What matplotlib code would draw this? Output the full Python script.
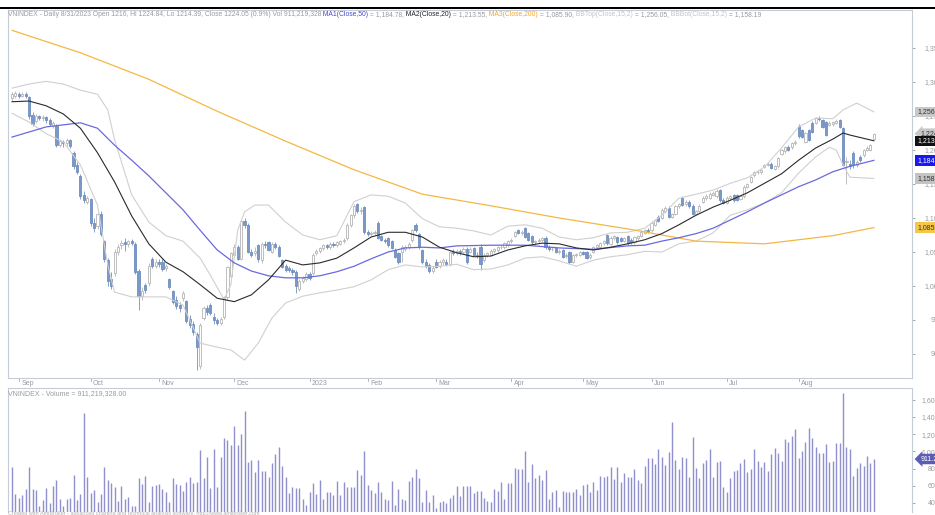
import numpy as np
import matplotlib.pyplot as plt
from matplotlib.patches import Rectangle

plt.rcParams['font.family'] = ['Liberation Sans', 'DejaVu Sans']

# daily bars, VNINDEX late Aug 2022 .. 31 Aug 2023
opens = [1276, 1280, 1283, 1280, 1282, 1278, 1252, 1242, 1250, 1247,
         1248, 1244, 1236, 1236, 1208, 1212, 1210, 1214, 1195, 1178,
         1162, 1134, 1124, 1128, 1092, 1088, 1106, 1066, 1038, 1010,
         1019, 1050, 1060, 1064, 1062, 1066, 1062, 1022, 986, 1002,
         1005, 1040, 1030, 1036, 1036, 1026, 1010, 992, 980, 972,
         982, 978, 952, 944, 930, 883, 953, 968, 972, 955,
         950, 946, 955, 984, 1015, 1045, 1058, 1040, 1095, 1090,
         1050, 1048, 1060, 1038, 1062, 1064, 1050, 1062, 1058, 1038,
         1030, 1027, 1024, 1021, 996, 1008, 1010, 1018, 1019, 1048,
         1052, 1056, 1060, 1058, 1062, 1060, 1062, 1066, 1070, 1090,
         1104, 1120, 1110, 1116, 1080, 1076, 1078, 1092, 1073, 1068,
         1070, 1066, 1053, 1048, 1050, 1055, 1058, 1068, 1090, 1076,
         1053, 1036, 1031, 1022, 1036, 1030, 1035, 1036, 1032, 1050,
         1048, 1052, 1050, 1054, 1050, 1056, 1046, 1058, 1038, 1046,
         1046, 1052, 1053, 1057, 1058, 1060, 1066, 1074, 1082, 1078,
         1085, 1078, 1074, 1064, 1066, 1068, 1071, 1058, 1054, 1056,
         1050, 1053, 1044, 1050, 1036, 1045, 1046, 1050, 1050, 1042,
         1050, 1057, 1058, 1063, 1075, 1062, 1071, 1072, 1070, 1066,
         1073, 1068, 1064, 1070, 1074, 1078, 1082, 1082, 1090, 1102,
         1100, 1110, 1115, 1102, 1106, 1117, 1130, 1120, 1124, 1118,
         1106, 1110, 1124, 1130, 1130, 1134, 1132, 1141, 1127, 1122,
         1130, 1134, 1134, 1128, 1132, 1146, 1153, 1163, 1167, 1168,
         1175, 1178, 1180, 1172, 1176, 1194, 1198, 1205, 1204, 1210,
         1235, 1229, 1212, 1229, 1240, 1240, 1247, 1244, 1241, 1237,
         1238, 1240, 1244, 1232, 1182, 1180, 1196, 1178, 1190, 1193,
         1200, 1200, 1216]
highs = [1285, 1287, 1286, 1286, 1285, 1280, 1256, 1253, 1252, 1251,
         1250, 1247, 1243, 1238, 1216, 1215, 1217, 1216, 1198, 1182,
         1165, 1140, 1133, 1130, 1100, 1108, 1110, 1068, 1041, 1020,
         1055, 1062, 1068, 1070, 1068, 1069, 1065, 1025, 998, 1004,
         1034, 1042, 1040, 1040, 1039, 1033, 1012, 994, 985, 976,
         993, 980, 958, 948, 932, 946, 971, 972, 975, 960,
         953, 955, 986, 1030, 1050, 1062, 1061, 1098, 1100, 1093,
         1055, 1057, 1062, 1064, 1066, 1066, 1064, 1065, 1060, 1040,
         1033, 1029, 1027, 1023, 1010, 1015, 1020, 1020, 1048, 1055,
         1058, 1062, 1062, 1064, 1065, 1066, 1068, 1071, 1092, 1106,
         1120, 1122, 1116, 1118, 1083, 1081, 1082, 1095, 1075, 1071,
         1072, 1068, 1056, 1050, 1060, 1061, 1065, 1084, 1092, 1078,
         1055, 1040, 1034, 1029, 1039, 1038, 1041, 1040, 1052, 1054,
         1055, 1055, 1058, 1057, 1058, 1058, 1050, 1062, 1048, 1050,
         1054, 1056, 1059, 1060, 1065, 1068, 1070, 1081, 1084, 1082,
         1087, 1080, 1075, 1068, 1070, 1072, 1073, 1060, 1058, 1058,
         1055, 1055, 1049, 1052, 1047, 1049, 1052, 1052, 1052, 1048,
         1059, 1062, 1065, 1068, 1077, 1073, 1075, 1074, 1072, 1072,
         1075, 1070, 1074, 1075, 1082, 1084, 1085, 1095, 1099, 1104,
         1114, 1117, 1117, 1108, 1119, 1122, 1132, 1126, 1126, 1120,
         1112, 1120, 1132, 1135, 1138, 1139, 1142, 1143, 1129, 1132,
         1134, 1136, 1136, 1134, 1148, 1152, 1162, 1169, 1170, 1172,
         1180, 1182, 1182, 1178, 1190, 1202, 1206, 1207, 1212, 1214,
         1238, 1231, 1227, 1231, 1242, 1249, 1250, 1246, 1243, 1242,
         1243, 1245, 1246, 1234, 1190, 1186, 1198, 1186, 1192, 1202,
         1206, 1209, 1224.84]
lows = [1272, 1277, 1276, 1278, 1276, 1246, 1235, 1240, 1244, 1243,
        1240, 1235, 1232, 1205, 1204, 1205, 1206, 1203, 1172, 1165,
        1128, 1122, 1120, 1088, 1080, 1084, 1073, 1036, 1000, 995,
        1015, 1046, 1055, 1052, 1058, 1060, 1017, 965, 980, 990,
        1000, 1026, 1027, 1028, 1022, 1022, 995, 973, 966, 962,
        978, 945, 938, 928, 876, 878, 950, 958, 958, 944,
        942, 943, 952, 980, 1012, 1042, 1038, 1038, 1086, 1048,
        1042, 1044, 1036, 1034, 1056, 1051, 1048, 1054, 1042, 1026,
        1021, 1020, 1016, 990, 993, 1005, 1007, 1009, 1016, 1045,
        1049, 1053, 1054, 1055, 1057, 1058, 1060, 1063, 1068, 1087,
        1100, 1107, 1106, 1077, 1073, 1073, 1075, 1069, 1066, 1063,
        1058, 1054, 1041, 1033, 1036, 1052, 1055, 1065, 1079, 1054,
        1033, 1027, 1019, 1019, 1026, 1027, 1031, 1030, 1029, 1045,
        1045, 1046, 1048, 1033, 1048, 1044, 1041, 1024, 1035, 1043,
        1044, 1049, 1050, 1054, 1055, 1058, 1063, 1072, 1076, 1075,
        1070, 1066, 1062, 1061, 1063, 1065, 1055, 1052, 1051, 1048,
        1047, 1041, 1041, 1033, 1034, 1042, 1044, 1045, 1039, 1040,
        1048, 1055, 1056, 1061, 1061, 1060, 1068, 1062, 1064, 1064,
        1061, 1062, 1062, 1068, 1072, 1076, 1078, 1080, 1088, 1094,
        1098, 1108, 1100, 1100, 1104, 1114, 1117, 1118, 1115, 1104,
        1104, 1108, 1122, 1127, 1128, 1132, 1130, 1124, 1120, 1120,
        1127, 1124, 1125, 1126, 1130, 1144, 1151, 1160, 1164, 1165,
        1173, 1176, 1172, 1170, 1174, 1192, 1196, 1198, 1202, 1207,
        1218, 1217, 1210, 1213, 1225, 1238, 1243, 1232, 1220, 1235,
        1236, 1238, 1232, 1176, 1150, 1172, 1173, 1175, 1183, 1190,
        1198, 1198, 1214.39]
closes = [1282, 1284, 1280, 1283, 1279, 1250, 1238, 1250, 1247, 1249,
          1244, 1238, 1240, 1208, 1213, 1210, 1214, 1206, 1176, 1168,
          1132, 1126, 1130, 1092, 1085, 1106, 1076, 1040, 1008, 1000,
          1050, 1058, 1063, 1062, 1066, 1063, 1020, 986, 993, 994,
          1030, 1030, 1036, 1033, 1025, 1030, 998, 976, 970, 968,
          990, 948, 942, 932, 911, 942, 968, 962, 960, 950,
          946, 952, 984, 1028, 1048, 1058, 1040, 1095, 1090, 1050,
          1046, 1052, 1040, 1062, 1060, 1053, 1062, 1058, 1044, 1028,
          1024, 1023, 1020, 1000, 1008, 1012, 1018, 1012, 1046, 1052,
          1056, 1060, 1057, 1062, 1060, 1064, 1066, 1068, 1090, 1104,
          1118, 1110, 1112, 1080, 1076, 1078, 1079, 1071, 1068, 1066,
          1060, 1056, 1043, 1036, 1057, 1058, 1062, 1082, 1082, 1057,
          1036, 1030, 1022, 1026, 1028, 1035, 1038, 1033, 1050, 1048,
          1052, 1050, 1055, 1036, 1055, 1046, 1044, 1032, 1046, 1048,
          1052, 1054, 1057, 1058, 1063, 1066, 1068, 1079, 1078, 1080,
          1072, 1068, 1064, 1066, 1068, 1070, 1057, 1054, 1055, 1050,
          1052, 1043, 1046, 1035, 1045, 1047, 1050, 1047, 1041, 1046,
          1057, 1060, 1063, 1066, 1063, 1071, 1073, 1064, 1066, 1070,
          1063, 1064, 1072, 1073, 1080, 1082, 1080, 1093, 1097, 1096,
          1112, 1115, 1102, 1106, 1117, 1120, 1119, 1124, 1117, 1106,
          1110, 1118, 1130, 1133, 1136, 1137, 1140, 1126, 1122, 1130,
          1132, 1126, 1127, 1132, 1146, 1150, 1160, 1167, 1168, 1170,
          1178, 1180, 1174, 1176, 1188, 1200, 1204, 1200, 1210, 1212,
          1220, 1219, 1225, 1215, 1227, 1247, 1245, 1234, 1222, 1240,
          1241, 1243, 1234, 1178, 1184, 1176, 1178, 1183, 1185, 1200,
          1203, 1207, 1224.05]
# volume in millions of shares
volumes = [822, 501, 462, 493, 559, 822, 559, 551, 365, 435,
           578, 396, 598, 667, 447, 365, 443, 454, 726, 435,
           501, 1443, 706, 512, 551, 416, 501, 822, 667, 629,
           590, 423, 602, 447, 474, 365, 365, 695, 617, 718,
           416, 602, 609, 617, 563, 524, 408, 695, 617, 609,
           540, 648, 706, 629, 640, 1016, 695, 939, 571, 1028,
           590, 939, 1160, 1133, 1074, 1299, 1074, 1198, 1470, 881,
           900, 764, 900, 772, 772, 706, 861, 966, 1047, 834,
           706, 512, 590, 571, 571, 447, 377, 532, 629, 501,
           667, 447, 532, 524, 493, 656, 493, 648, 590, 590,
           590, 784, 726, 1005, 609, 551, 512, 640, 532, 447,
           435, 656, 377, 559, 447, 435, 656, 706, 795, 687,
           408, 551, 408, 493, 338, 416,
           423, 396, 454, 493, 602, 481, 602, 602, 602, 512,
           540, 540, 454, 423, 408, 559, 540, 640, 447, 629,
           629, 811, 795, 795, 1005, 640, 850, 695, 726, 667,
           780, 447, 524, 551, 357, 540, 532, 532, 524, 563,
           493, 609, 617, 532, 648, 551, 718, 706, 718, 822,
           679, 822, 640, 745, 706, 706, 795, 667, 629, 834,
           927, 927, 850, 1028, 939, 842, 989, 1338, 900, 795,
           939, 919, 706, 1171, 811, 687, 861, 900, 1028, 706,
           873, 888, 590, 532, 695, 772, 784, 861, 912, 757,
           795, 1028, 888, 822, 881, 772, 966, 1036, 978, 888,
           1144, 1105, 1183, 1260, 919, 1005, 1113, 1276, 1152, 1055,
           978, 978, 1082, 881, 888, 1094, 1094, 1680, 1055, 1028,
           718, 803, 861, 834, 950, 861, 911.22]

month_idx = [2, 23, 43, 65, 87, 104, 124, 146, 167, 187, 209, 230]
month_lbl = ['Sep', 'Oct', 'Nov', 'Dec', '2023', 'Feb', 'Mar', 'Apr', 'May', 'Jun', 'Jul', 'Aug']

# indicator lines at sample bars
ma20_idx = [0, 5, 10, 15, 20, 25, 30, 35, 40, 45, 50, 55, 60, 65, 70, 75, 80, 85, 90, 95,
            100, 105, 110, 115, 120, 125, 130, 135, 140, 145, 150, 155, 160, 165, 170, 175,
            180, 185, 190, 195, 200, 205, 210, 215, 220, 225, 230, 235, 240, 243, 245, 250, 252]
ma20_val = [1271, 1272, 1265, 1253, 1232, 1196, 1153, 1103, 1062, 1035, 1021, 1002, 982, 977,
            987, 1009, 1038, 1031, 1034, 1041, 1056, 1072, 1079, 1079, 1072, 1057, 1049, 1043,
            1044, 1053, 1059, 1063, 1062, 1056, 1053, 1057, 1062, 1068, 1077, 1090, 1104, 1116,
            1126, 1137, 1151, 1165, 1185, 1203, 1216, 1225, 1222, 1216, 1213.55]
ma50_idx = [0, 10, 20, 25, 30, 35, 40, 45, 50, 55, 60, 65, 70, 75, 80, 85, 90, 95, 100, 105,
            110, 115, 120, 125, 130, 140, 150, 160, 170, 180, 185, 190, 195, 200, 205, 210,
            215, 220, 225, 230, 235, 240, 245, 252]
ma50_val = [1219, 1234, 1240, 1232, 1207, 1185, 1162, 1137, 1112, 1082, 1053, 1034, 1022, 1015,
            1012, 1012, 1015, 1021, 1029, 1040, 1050, 1056, 1057, 1056, 1059, 1060, 1060, 1056,
            1054, 1059, 1060, 1066, 1071, 1077, 1085, 1097, 1109, 1122, 1134, 1146, 1156, 1168,
            1176, 1184.78]
ma200_idx = [0, 20, 40, 60, 80, 100, 120, 140, 160, 180, 200, 220, 240, 252]
ma200_val = [1376, 1343, 1304, 1257, 1213, 1171, 1135, 1118, 1100, 1084, 1066, 1062, 1074, 1085.9]
bbt_idx = [0, 5, 10, 15, 20, 25, 28, 30, 35, 40, 45, 50, 55, 58, 62, 64, 66, 68, 71, 75,
           80, 85, 90, 95, 98, 100, 105, 110, 115, 120, 125, 130, 135, 140, 145, 150, 155,
           160, 165, 170, 175, 180, 185, 190, 195, 200, 205, 210, 215, 220, 225, 230, 235,
           240, 243, 247, 252]
bbt_val = [1291, 1297, 1301, 1297, 1288, 1282, 1259, 1215, 1134, 1094, 1074, 1066, 1041, 1016,
           980, 1002, 1082, 1109, 1119, 1119, 1094, 1075, 1068, 1074, 1104, 1124, 1134, 1132,
           1122, 1099, 1087, 1085, 1081, 1075, 1088, 1090, 1085, 1072, 1068, 1071, 1078, 1079,
           1085, 1104, 1129, 1135, 1141, 1151, 1159, 1175, 1203, 1234, 1247, 1246, 1259, 1269,
           1256.05]
bbb_idx = [0, 5, 10, 15, 20, 25, 28, 30, 35, 40, 45, 50, 55, 60, 64, 68, 72, 76, 80, 85,
           90, 95, 100, 105, 110, 115, 120, 125, 130, 135, 140, 145, 150, 155, 160, 165, 170,
           175, 180, 185, 190, 195, 200, 205, 210, 215, 220, 225, 230, 235, 239, 241, 243,
           245, 252]
bbb_val = [1254, 1241, 1224, 1212, 1178, 1119, 1031, 991, 984, 984, 984, 972, 916, 910, 906,
           891, 916, 953, 975, 985, 990, 994, 999, 1009, 1024, 1031, 1028, 1029, 1032, 1024,
           1025, 1031, 1041, 1043, 1037, 1029, 1038, 1043, 1046, 1051, 1050, 1062, 1066, 1078,
           1104, 1112, 1122, 1137, 1166, 1190, 1204, 1200, 1178, 1160, 1158.19]

W, H = 935, 515
fig = plt.figure(figsize=(9.35, 5.15), dpi=100)


def fx(px):
    return px / W


def fy(py):
    return 1 - py / H


ax = fig.add_axes([fx(8), fy(378), fx(912) - fx(8), fy(10) - fy(378)])
axv = fig.add_axes([fx(8), fy(512), fx(912) - fx(8), fy(388) - fy(512)], sharex=ax)

spine_col = '#c4ccd8'
grey = '#9a9a9a'

o = np.array(opens, float)
h = np.array(highs, float)
l = np.array(lows, float)
c = np.array(closes, float)
idx = np.arange(len(c))
up = c >= o
body_lo = np.minimum(o, c)
body_h = np.maximum(np.abs(c - o), 0.8)

# candles
ax.vlines(idx[up], l[up], h[up], color='#b4b4b4', lw=0.6, zorder=2)
ax.vlines(idx[~up], l[~up], h[~up], color='#7491be', lw=0.6, zorder=2)
ax.bar(idx[up], body_h[up], bottom=body_lo[up], width=0.62, facecolor='white',
       edgecolor='#b4b4b4', linewidth=0.6, zorder=3)
ax.bar(idx[~up], body_h[~up], bottom=body_lo[~up], width=0.62, facecolor='#7b99c7',
       edgecolor='#6f8ebf', linewidth=0.6, zorder=3)

# indicators
ax.plot(bbt_idx, bbt_val, color='#d0d0d0', lw=0.8, zorder=4)
ax.plot(bbb_idx, bbb_val, color='#d0d0d0', lw=0.8, zorder=4)
ax.plot(ma200_idx, ma200_val, color='#f3b844', lw=0.9, zorder=4)
ax.plot(ma50_idx, ma50_val, color='#6a6ade', lw=0.9, zorder=5)
ax.plot(ma20_idx, ma20_val, color='#2a2a2a', lw=0.8, zorder=5)

ax.set_xlim((8 - 12) / 3.42, (912 - 12) / 3.42)
ax.set_ylim(864.7, 1405.9)

for s in ax.spines.values():
    s.set_color(spine_col)
    s.set_linewidth(0.8)

ax.yaxis.tick_right()
yt = list(range(900, 1400, 50))
ax.set_yticks(yt)
ax.set_yticklabels([f'{v:,}' for v in yt])
ax.tick_params(axis='y', direction='out', length=2.2, width=0.6, colors=grey,
               labelsize=5, pad=19.7)
for t in ax.get_yticklabels():
    t.set_horizontalalignment('right')
ax.tick_params(axis='x', length=0, labelbottom=False)

# month labels in the strip between the panes
xt = ax.get_xaxis_transform()
for m, lbl in zip(month_idx, month_lbl):
    ax.plot([m, m], [0, -0.009], transform=xt, clip_on=False, color='#a8a8a8', lw=0.6)
    ax.text(m + 0.7, -0.0145, lbl, transform=xt, ha='left', va='center',
            fontsize=5, color=grey)

# right-hand value boxes
boxes = [(1256.05, '1,256.05', '#c8c8c8', '#333333', 'square'),
         (1224.05, '1,224.05', '#c8c8c8', '#333333', 'larrow'),
         (1213.55, '1,213.55', '#111111', 'white', 'square'),
         (1184.78, '1,184.78', '#1717ee', 'white', 'square'),
         (1158.19, '1,158.19', '#c4c4c4', '#333333', 'square'),
         (1085.90, '1,085.90', '#f6c648', '#333333', 'square')]
for val, txt, fc, tc, style in boxes:
    off = 6 if style == 'larrow' else 3.6
    ax.annotate(txt, xy=(1, val), xycoords=('axes fraction', 'data'),
                xytext=(off, 0), textcoords='offset points', ha='left', va='center',
                fontsize=5, color=tc, annotation_clip=False, zorder=10,
                bbox=dict(boxstyle=f'{style},pad=0.25', fc=fc, ec='none'))

# volume pane
axv.vlines(idx, 0, volumes, color='#9090cc', lw=1.0)
axv.set_ylim(295, 1737)
for s in axv.spines.values():
    s.set_color(spine_col)
    s.set_linewidth(0.8)
axv.spines['bottom'].set_visible(False)
axv.yaxis.tick_right()
vt = list(range(400, 1700, 200))
axv.set_yticks(vt)
axv.set_yticklabels([f'{v:,}M' for v in vt])
axv.tick_params(axis='y', direction='out', length=2.2, width=0.6, colors=grey,
                labelsize=5, pad=21.6)
for t in axv.get_yticklabels():
    t.set_horizontalalignment('right')
axv.tick_params(axis='x', length=0, labelbottom=False)
axv.annotate('911.22M', xy=(1, 911.22), xycoords=('axes fraction', 'data'),
             xytext=(6, 0), textcoords='offset points', ha='left', va='center',
             fontsize=5, color='white', annotation_clip=False, zorder=10,
             bbox=dict(boxstyle='larrow,pad=0.25', fc='#5c5cb6', ec='none'))
fig.text(fx(8), fy(395), 'VNINDEX - Volume = 911,219,328.00', fontsize=5, color=grey,
         va='baseline')

# black bar along the top edge
fig.add_artist(Rectangle((0, fy(9.3)), 1, fy(6.7) - fy(9.3), transform=fig.transFigure,
                         color='black', lw=0))

# title line with coloured indicator names
hdr = [('VNINDEX - Daily 8/31/2023 Open 1216, Hi 1224.84, Lo 1214.39, Close 1224.05 (0.9%) '
        'Vol 911,219,328', grey),
       (' MA1(Close,50)', '#4646d6'), (' = 1,184.78,', grey),
       (' MA2(Close,20)', '#222222'), (' = 1,213.55,', grey),
       (' MA3(Close,200)', '#f0a62a'), (' = 1,085.90,', grey),
       (' BBTop(Close,15,2)', '#c4c4c4'), (' = 1,256.05,', grey),
       (' BBBot(Close,15,2)', '#c4c4c4'), (' = 1,158.19', grey)]
hfs = 4.83
prev = fig.text(fx(8), fy(16), hdr[0][0], fontsize=hfs, color=hdr[0][1], va='baseline')
for s, col in hdr[1:]:
    prev = ax.annotate(s, xy=(1, 0), xycoords=prev, ha='left', va='bottom',
                       fontsize=hfs, color=col, annotation_clip=False)

fig.text(fx(8), fy(515.5), 'Created with AmiBroker - advanced charting and technical analysis '
         'software. http://www.amibroker.com', fontsize=4, color='#b0b0b0', va='baseline')

fig.savefig('out.png', dpi=100)
